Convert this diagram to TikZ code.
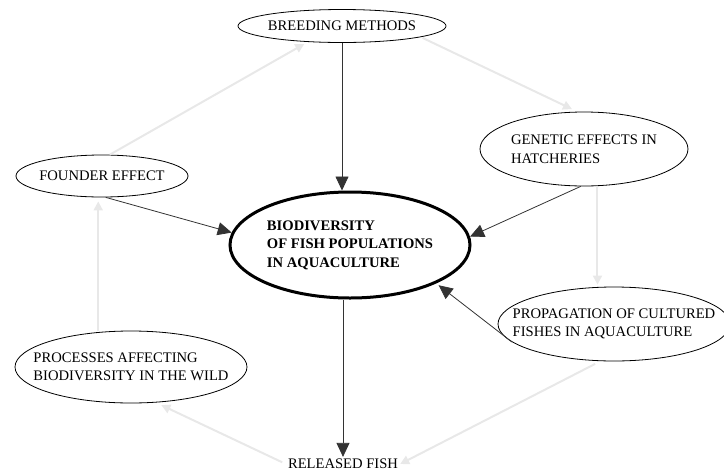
\documentclass[tikz,border=0pt]{standalone}
\usepackage{fontspec}
\setmainfont{Liberation Serif}
\usetikzlibrary{arrows.meta,shapes.geometric,positioning,calc}

\begin{document}
\begin{tikzpicture}[x=1pt, y=-1pt,
    topic/.style={draw, ellipse, inner xsep=-70pt, inner ysep=-20pt, align=left, line width=0.8pt, font=\fontsize{14.6}{18.5}\selectfont},
    core/.style={topic, line width=3pt, font=\fontsize{14.6}{18.5}\selectfont\bfseries},
    arr/.style={-{Triangle[length=14pt, width=13pt]}, line width=0.8pt, black!80},
    faint/.style={-{Triangle[length=9pt, width=9pt]}, line width=2pt, black!9}
]
\useasboundingbox (0,0) rectangle (724,472);

\node[topic, minimum width=208pt, minimum height=33pt] (breed) at (342,26) {BREEDING METHODS};
\node[topic, minimum width=208pt, minimum height=74pt] (gen) at (584,149) {GENETIC EFFECTS IN\\HATCHERIES};
\node[topic, minimum width=172pt, minimum height=42pt] (found) at (102,176) {FOUNDER EFFECT};
\node[core, minimum width=240pt, minimum height=106pt] (bio) at (350,245) {BIODIVERSITY\\OF FISH POPULATIONS\\IN AQUACULTURE};
\node[topic, minimum width=232pt, minimum height=74pt] (prop) at (614,324) {PROPAGATION OF CULTURED\\FISHES IN AQUACULTURE};
\node[topic, minimum width=232pt, minimum height=72pt] (proc) at (131,367) {PROCESSES AFFECTING\\BIODIVERSITY IN THE WILD};
\node[font=\fontsize{14.6}{18.5}\selectfont, inner sep=2pt] (rel) at (343,464) {RELEASED FISH};

% cycle round the centre
\draw[faint, shorten >=4pt] (found.70) -- (breed.205);
\draw[faint, shorten <=2pt, shorten >=6pt] (breed.-8) -- (gen.100);
\draw[faint, shorten >=2pt] (gen.-70) -- (gen.-70 |- prop.north);
\draw[faint, shorten <=6pt] (prop.250) -- (rel.east);
\draw[faint, shorten <=4pt, shorten >=6pt] (rel.west) -- (proc.-55);
\draw[faint, shorten >=4pt] (proc.north -| found.-100) -- (found.-100);

% into and out of the centre
\draw[arr] (breed.south) -- (breed.south |- bio.north);
\draw[arr] (found.-80) -- (bio.174);
\draw[arr] (gen.-95) -- (bio.4);
\draw[arr, shorten >=3pt] (prop.190) -- (bio.-24);
\draw[arr] (bio.south -| rel.north) -- (rel.north);
\end{tikzpicture}
\end{document}
